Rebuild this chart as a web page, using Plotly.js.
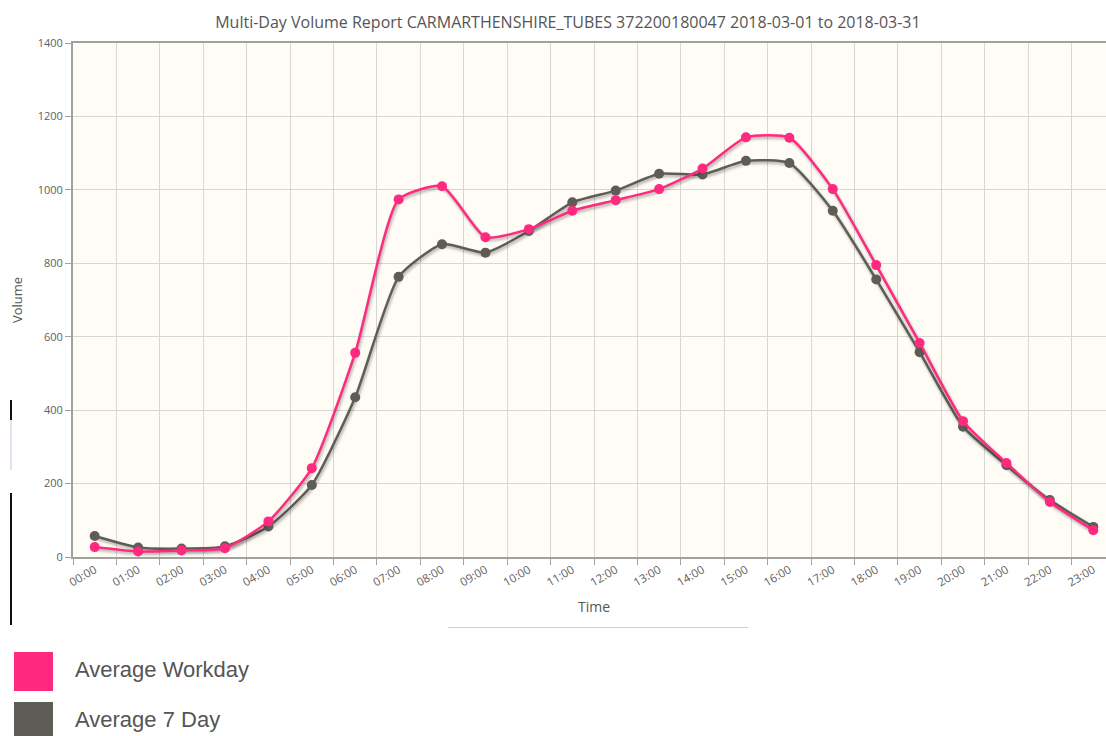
<!DOCTYPE html>
<html>
<head>
<meta charset="utf-8">
<script src="https://cdn.plot.ly/plotly-3.0.1.min.js"></script>
<style>
  html, body { margin: 0; padding: 0; width: 1106px; height: 736px; overflow: hidden; background: #ffffff; }
  #chart { position: absolute; left: 0; top: 0; width: 1130px; height: 640px; }
  .scatterlayer .trace .js-line { filter: drop-shadow(1px 2px 1.5px rgba(0,0,0,0.35)); }
  .legend-item { position: absolute; left: 14px; height: 39px; font-family: "Liberation Sans", Arial, sans-serif; font-size: 22px; color: #555; }
  .legend-item .sw { position: absolute; left: 0; top: 0; width: 39px; height: 39px; }
  .legend-item .lb { position: absolute; left: 61px; top: 5px; white-space: nowrap; }
  .artifact { position: absolute; }
</style>
</head>
<body>
<div id="chart"></div>
<div id="legend"></div>
<div class="artifact" style="left:10px;top:400px;width:2px;height:20px;background:#111;"></div>
<div class="artifact" style="left:10px;top:420px;width:2px;height:50px;background:#dce6f2;"></div>
<div class="artifact" style="left:10px;top:493px;width:2px;height:132px;background:#111;"></div>
<div class="artifact" style="left:448px;top:627px;width:300px;height:1px;background:#d0d0d0;"></div>
<script>
const hours = ["00:00","01:00","02:00","03:00","04:00","05:00","06:00","07:00","08:00","09:00","10:00","11:00",
               "12:00","13:00","14:00","15:00","16:00","17:00","18:00","19:00","20:00","21:00","22:00","23:00"];
const workday = [27, 15, 18, 24, 97, 242, 556, 974, 1010, 871, 893, 943, 972, 1002, 1058, 1143, 1142, 1002, 795, 583, 370, 256, 150, 73];
const sevenDay = [57, 26, 23, 29, 83, 196, 435, 763, 852, 829, 888, 966, 998, 1044, 1042, 1079, 1073, 943, 756, 558, 355, 250, 155, 82];
const seriesNames = ["Average Workday", "Average 7 Day"];
const yTicks = [0, 200, 400, 600, 800, 1000, 1200, 1400];
const chartTitle = "Multi-Day Volume Report CARMARTHENSHIRE_TUBES 372200180047 2018-03-01 to 2018-03-31";

const colors = ["#ff2a7f", "#5e5d55"];
const seriesData = [workday, sevenDay];

const traces = [1, 0].map(i => ({
  type: "scatter",
  mode: "lines+markers",
  name: seriesNames[i],
  x: hours,
  y: seriesData[i],
  line: { color: colors[i], width: 2.5, shape: "spline", smoothing: 0.55 },
  marker: { color: colors[i], size: 10 },
  showlegend: false,
  hoverinfo: "x+y+name"
}));

const layout = {
  width: 1130,
  height: 640,
  margin: { l: 73, r: 15, t: 43, b: 83 },
  paper_bgcolor: "#ffffff",
  plot_bgcolor: "#fffcf5",
  title: {
    text: chartTitle,
    font: { family: "Open Sans, DejaVu Sans, sans-serif", size: 16, color: "#555555" },
    x: 0.475, xanchor: "center", xref: "paper",
    y: 1 - 22 / 640, yanchor: "middle", yref: "container"
  },
  xaxis: {
    type: "category",
    tickson: "boundaries",
    range: [-0.5, 23.5],
    ticks: "outside",
    ticklen: 6,
    tickcolor: "#a0a0a0",
    tickwidth: 1,
    tickangle: -30,
    tickfont: { family: "Open Sans, DejaVu Sans, sans-serif", size: 11.5, color: "#606060" },
    showgrid: true,
    gridcolor: "#d6d6d6",
    gridwidth: 1,
    showline: true,
    linecolor: "#a0a0a0",
    linewidth: 2,
    mirror: true,
    zeroline: false,
    title: { text: "Time", font: { family: "Open Sans, DejaVu Sans, sans-serif", size: 14, color: "#555555" }, standoff: 14 }
  },
  yaxis: {
    range: [0, 1400],
    tickvals: yTicks,
    ticktext: yTicks.map(String),
    ticks: "outside",
    ticklen: 6,
    tickcolor: "#a0a0a0",
    tickfont: { family: "Open Sans, DejaVu Sans, sans-serif", size: 11, color: "#606060" },
    showgrid: true,
    gridcolor: "#d6d6d6",
    gridwidth: 1,
    showline: true,
    linecolor: "#a0a0a0",
    linewidth: 2,
    mirror: true,
    zeroline: false,
    title: { text: "Volume", font: { family: "Open Sans, DejaVu Sans, sans-serif", size: 13, color: "#555555" }, standoff: 12 }
  },
  showlegend: false
};

Plotly.newPlot("chart", traces, layout, { displayModeBar: false, responsive: false });

const legend = document.getElementById("legend");
seriesNames.forEach((name, i) => {
  const item = document.createElement("div");
  item.className = "legend-item";
  item.style.top = (652 + i * 50) + "px";
  const sw = document.createElement("div");
  sw.className = "sw";
  sw.style.background = colors[i];
  const lb = document.createElement("div");
  lb.className = "lb";
  lb.textContent = name;
  item.appendChild(sw);
  item.appendChild(lb);
  legend.appendChild(item);
});
</script>
</body>
</html>
